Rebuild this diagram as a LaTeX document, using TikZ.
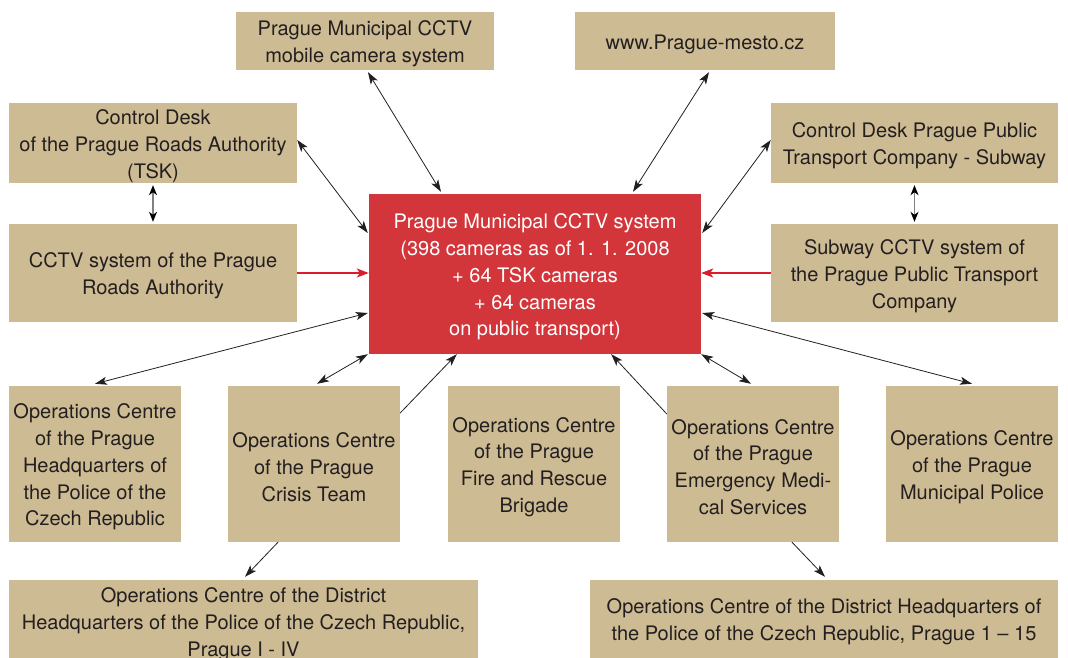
\documentclass[tikz,border=0pt]{standalone}
\usepackage{fontspec}
\setmainfont{TeX Gyre Heros}
\usetikzlibrary{arrows.meta,calc}
\definecolor{tan}{HTML}{CDBB93}
\definecolor{boxred}{HTML}{D3363A}
\definecolor{arrred}{HTML}{D71E2A}
\definecolor{txt}{HTML}{231F20}
\newcommand\Tup{\rule{0pt}{21pt}}
\tikzset{
  box/.style={fill=tan, draw=none, inner sep=0pt, align=center, text=txt,
    font=\fontsize{20}{26.7}\selectfont},
  redbox/.style={box, fill=boxred, text=white},
  con/.style={line width=0.8pt, draw=txt},
  dbl/.style={con, {Stealth[length=12pt,width=8pt,inset=3pt]}-{Stealth[length=12pt,width=8pt,inset=3pt]}},
  one/.style={con, -{Stealth[length=12pt,width=8pt,inset=3pt]}},
  vdbl/.style={line width=1.2pt, draw=gray, {Stealth[length=10pt,width=8pt,inset=3pt,color=black]}-{Stealth[length=10pt,width=8pt,inset=3pt,color=black]}},
  redarr/.style={line width=1.4pt, draw=arrred, -{Stealth[length=12pt,width=9pt,inset=3pt]}}
}
\begin{document}
\begin{tikzpicture}[x=1pt,y=-1pt]
\useasboundingbox (0,0) rectangle (1068,658);
\node[box, minimum width=258pt, minimum height=58pt] (mobile) at (365,41) {\Tup Prague Municipal CCTV\\mobile camera system};
\node[box, minimum width=260pt, minimum height=58pt] (www) at (705,41) {\Tup www.Prague-mesto.cz};
\node[box, minimum width=288pt, minimum height=80pt] (tsk) at (153,143) {\Tup Control Desk\\of the Prague Roads Authority\\(TSK)};
\node[box, minimum width=288pt, minimum height=98pt] (roads) at (153,273) {\Tup CCTV system of the Prague\\Roads Authority};
\node[redbox, minimum width=332pt, minimum height=160pt] (red) at (535,274) {\Tup Prague Municipal CCTV system\\(398 cameras as of 1. 1. 2008\\+ 64 TSK cameras\\+ 64 cameras\\on public transport)};
\node[box, minimum width=287pt, minimum height=80pt] (subctl) at (914.5,143) {\Tup Control Desk Prague Public\\Transport Company - Subway};
\node[box, minimum width=287pt, minimum height=98pt] (subcctv) at (914.5,273) {\Tup Subway CCTV system of\\the Prague Public Transport\\Company};
\node[box, minimum width=172pt, minimum height=156pt] (police) at (95,464) {\Tup Operations Centre\\of the Prague\\Headquarters of\\the Police of the\\Czech Republic};
\node[box, minimum width=172pt, minimum height=156pt] (crisis) at (314,464) {\Tup Operations Centre\\of the Prague\\Crisis Team};
\node[box, minimum width=172pt, minimum height=156pt] (fire) at (534,464) {\Tup Operations Centre\\of the Prague\\Fire and Rescue\\Brigade};
\node[box, minimum width=172pt, minimum height=156pt] (ems) at (753,464) {\Tup Operations Centre\\of the Prague\\Emergency Medi-\\cal Services};
\node[box, minimum width=172pt, minimum height=156pt] (muni) at (972,464) {\Tup Operations Centre\\of the Prague\\Municipal Police};
\node[box, minimum width=469pt, minimum height=82pt] (distA) at (243.5,621) {\Tup Operations Centre of the District\\Headquarters of the Police of the Czech Republic,\\Prague I - IV};
\node[box, minimum width=468pt, minimum height=78pt] (distB) at (824,619) {\Tup Operations Centre of the District Headquarters of\\the Police of the Czech Republic, Prague 1 -- 15};
% connectors
\draw[dbl] ([xshift=3pt,yshift=-2pt]mobile.south) -- ([xshift=-94pt,yshift=2pt]red.north);
\draw[dbl] ([xshift=4pt,yshift=-2pt]www.south) -- ([xshift=98pt,yshift=2pt]red.north);
\draw[dbl] ([yshift=3pt]tsk.east) -- ([xshift=-1pt,yshift=41pt]red.west);
\draw[dbl] ([yshift=3pt]subctl.west) -- ([xshift=1pt,yshift=41pt]red.east);
\draw[vdbl] ([yshift=-2pt]tsk.south) -- ([yshift=2pt]roads.north);
\draw[vdbl] ([yshift=-2pt]subctl.south) -- ([yshift=2pt]subcctv.north);
\draw[redarr] (roads.east) -- (roads.east -| red.west);
\draw[redarr] (subcctv.west) -- (subcctv.west -| red.east);
\draw[dbl] ([yshift=2pt]police.north) -- ([xshift=-1pt,yshift=-39pt]red.west);
\draw[dbl] ([xshift=3pt,yshift=2pt]crisis.north) -- ([xshift=-1pt]red.south west);
\draw[one] ([yshift=51pt]crisis.east) -- ([xshift=88pt]red.south west);
\draw[one] ([yshift=50pt]ems.west) -- ([xshift=-90pt]red.south east);
\draw[dbl] (red.south east) -- ([xshift=-2pt,yshift=2pt]ems.north);
\draw[dbl] ([xshift=1pt,yshift=-39pt]red.east) -- ([yshift=2pt]muni.north);
\draw[one] ([xshift=-36pt]crisis.south) -- ([xshift=1.5pt,yshift=3pt]distA.north);
\draw[one] ([xshift=39pt]ems.south) -- ([xshift=1pt,yshift=3pt]distB.north);
\end{tikzpicture}
\end{document}
